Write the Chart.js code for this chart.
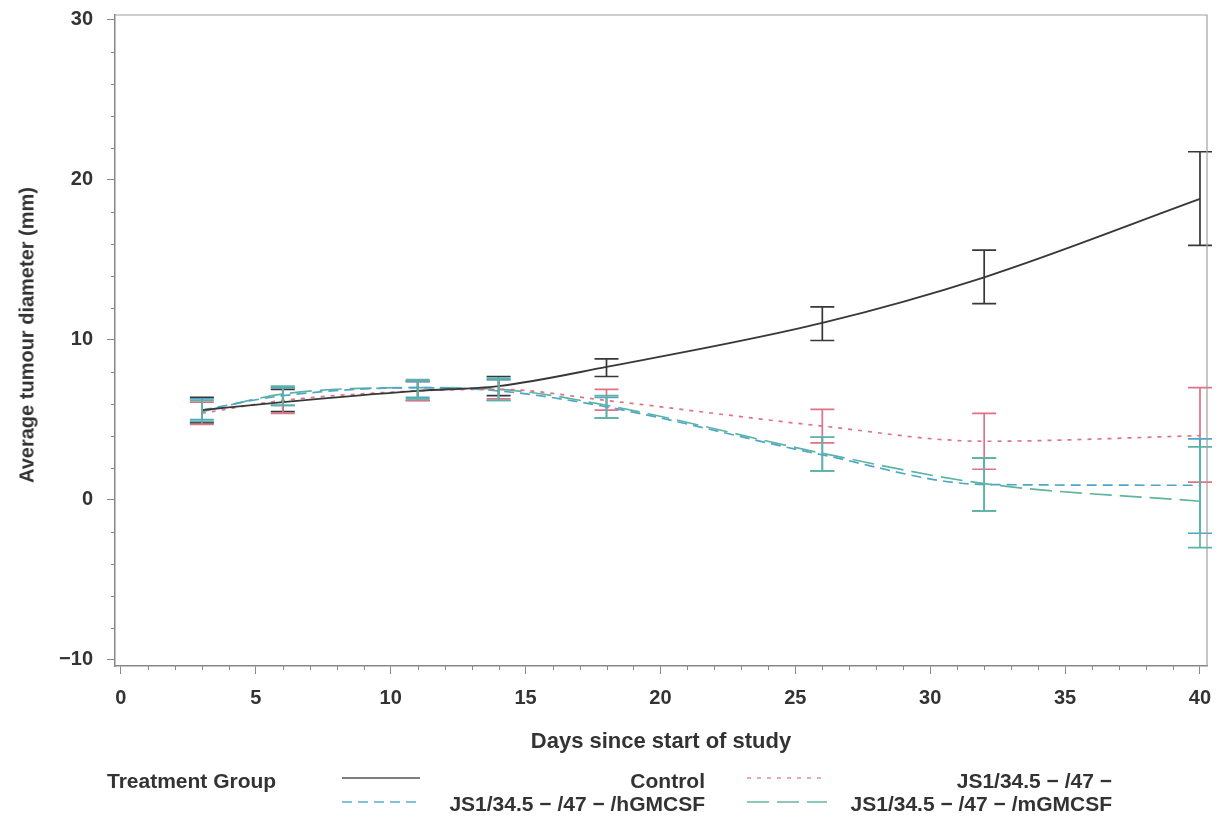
<!DOCTYPE html>
<html>
<head>
<meta charset="utf-8">
<script src="https://cdn.jsdelivr.net/npm/chart.js@4.4.1/dist/chart.umd.min.js"></script>
<style>
  html, body { margin: 0; padding: 0; background: #fff; }
  #wrap { position: relative; width: 1216px; height: 822px; font-family: "Liberation Sans", Arial, sans-serif; color: #333; font-weight: bold; }
  canvas { position: absolute; left: 0; top: 0; }
  .lg { position: absolute; font-size: 21px; line-height: 24px; white-space: nowrap; }
  .r { text-align: right; }
  svg.s { position: absolute; }
  .xt { position: absolute; left: 661px; top: 741px; transform: translate(-50%, -50%); font-size: 22px; white-space: nowrap; }
  .yt { position: absolute; left: 27px; top: 335px; transform: translate(-50%, -50%) rotate(-90deg); font-size: 20px; white-space: nowrap; }
</style>
</head>
<body>
<div id="wrap">
  <canvas id="c" width="1216" height="822"></canvas>
  <div class="xt">Days since start of study</div>
  <div class="yt">Average tumour diameter (mm)</div>
  <div class="lg" style="left:107px; top:769px;">Treatment Group</div>
  <svg class="s" style="left:342px; top:773px;" width="80" height="10"><line x1="0" y1="5" x2="78" y2="5" stroke="#555" stroke-width="1.6"/></svg>
  <div class="lg r" style="left:405px; width:300px; top:769px;">Control</div>
  <svg class="s" style="left:747px; top:773px;" width="84" height="10"><line x1="0" y1="5" x2="80" y2="5" stroke="#e08a9c" stroke-width="1.6" stroke-dasharray="4,6"/></svg>
  <div class="lg r" style="left:812px; width:300px; top:769px;">JS1/34.5 − /47 −</div>
  <svg class="s" style="left:342px; top:797px;" width="80" height="10"><line x1="0" y1="5" x2="78" y2="5" stroke="#5aaed0" stroke-width="1.6" stroke-dasharray="10,6"/></svg>
  <div class="lg r" style="left:405px; width:300px; top:792px;">JS1/34.5 − /47 − /hGMCSF</div>
  <svg class="s" style="left:747px; top:797px;" width="84" height="10"><line x1="0" y1="5" x2="80" y2="5" stroke="#66b8a4" stroke-width="1.6" stroke-dasharray="22,8"/></svg>
  <div class="lg r" style="left:812px; width:300px; top:792px;">JS1/34.5 − /47 − /mGMCSF</div>
</div>
<script>
const days = [3, 6, 11, 14, 18, 26, 32, 40];

const control   = [5.6, 6.1, 6.8, 7.1, 8.3, 11.05, 13.9, 18.8];
const controlLo = [4.8, 5.5, 6.2, 6.5, 7.7, 9.95, 12.25, 15.9];
const controlHi = [6.4, 6.9, 7.4, 7.7, 8.8, 12.05, 15.6, 21.75];

const js1    = [5.4, 6.2, 6.8, 6.9, 6.2, 4.6, 3.65, 4.0];
const js1Lo  = [4.7, 5.4, 6.2, 6.3, 5.6, 3.55, 1.9, 1.1];
const js1Hi  = [6.1, 7.0, 7.4, 7.5, 6.9, 5.65, 5.4, 7.0];

const hgm    = [5.6, 6.5, 7.0, 6.8, 5.8, 2.8, 0.95, 0.9];
const hgmLo  = [5.0, 5.9, 6.4, 6.2, 5.1, 1.8, -0.7, -2.1];
const hgmHi  = [6.3, 7.0, 7.4, 7.5, 6.4, 3.9, 2.6, 3.8];

const mgm    = [5.5, 6.6, 7.0, 6.9, 5.9, 2.9, 1.0, -0.1];
const mgmLo  = [4.9, 5.9, 6.3, 6.2, 5.1, 1.8, -0.7, -3.0];
const mgmHi  = [6.2, 7.1, 7.5, 7.6, 6.5, 3.9, 2.6, 3.3];

const xTicks = [0, 5, 10, 15, 20, 25, 30, 35, 40];
const yTicks = [-10, 0, 10, 20, 30];

function pts(vals) { return days.map((d, i) => ({ x: d, y: vals[i] })); }

const groups = [
  { label: 'Control', vals: control, lo: controlLo, hi: controlHi, color: '#383838', dash: [], width: 1.9 },
  { label: 'JS1/34.5-/47-', vals: js1, lo: js1Lo, hi: js1Hi, color: '#dc7389', dash: [4, 6], width: 1.7 },
  { label: 'JS1/34.5-/47-/hGMCSF', vals: hgm, lo: hgmLo, hi: hgmHi, color: '#4ea6cc', dash: [10, 6], width: 1.7 },
  { label: 'JS1/34.5-/47-/mGMCSF', vals: mgm, lo: mgmLo, hi: mgmHi, color: '#5db4a0', dash: [22, 8], width: 1.7 }
];

const errorBars = {
  id: 'errorBars',
  afterDatasetsDraw(chart) {
    const ctx = chart.ctx, xs = chart.scales.x, ys = chart.scales.y;
    ctx.save();
    groups.forEach(g => {
      ctx.strokeStyle = g.color;
      ctx.lineWidth = 1.7;
      ctx.setLineDash([]);
      days.forEach((d, i) => {
        const px = xs.getPixelForValue(d);
        const pl = ys.getPixelForValue(g.lo[i]);
        const ph = ys.getPixelForValue(g.hi[i]);
        ctx.beginPath();
        ctx.moveTo(px, pl); ctx.lineTo(px, ph);
        ctx.moveTo(px - 12, pl); ctx.lineTo(px + 12, pl);
        ctx.moveTo(px - 12, ph); ctx.lineTo(px + 12, ph);
        ctx.stroke();
      });
    });
    ctx.restore();
  }
};

const frame = {
  id: 'frame',
  afterDraw(chart) {
    const ctx = chart.ctx, a = chart.chartArea, xs = chart.scales.x, ys = chart.scales.y;
    ctx.save();
    ctx.strokeStyle = '#a0a0a0';
    ctx.lineWidth = 1.2;
    ctx.beginPath();
    ctx.moveTo(a.left, a.top); ctx.lineTo(a.right, a.top); ctx.lineTo(a.right, a.bottom);
    ctx.stroke();
    ctx.strokeStyle = '#888';
    ctx.lineWidth = 1;
    ctx.beginPath();
    for (let d = 0; d <= 40; d++) {
      if (d % 5 === 0) continue;
      const px = Math.round(xs.getPixelForValue(d)) + 0.5;
      ctx.moveTo(px, a.bottom); ctx.lineTo(px, a.bottom + 4);
    }
    for (let v = -10; v <= 30; v += 2) {
      if (v % 10 === 0) continue;
      const py = Math.round(ys.getPixelForValue(v)) + 0.5;
      ctx.moveTo(a.left, py); ctx.lineTo(a.left - 4, py);
    }
    ctx.stroke();
    ctx.restore();
  }
};

const font = { family: '"Liberation Sans", Arial, sans-serif', weight: 'bold', size: 20 };

new Chart(document.getElementById('c'), {
  type: 'line',
  data: {
    datasets: groups.map(g => ({
      label: g.label,
      data: pts(g.vals),
      borderColor: g.color,
      backgroundColor: g.color,
      borderDash: g.dash,
      borderWidth: g.width,
      pointRadius: 0,
      tension: 0.4,
      cubicInterpolationMode: 'monotone',
      fill: false
    }))
  },
  options: {
    responsive: false,
    animation: false,
    layout: { padding: { left: 0, right: 9, top: 15, bottom: 67 } },
    plugins: { legend: { display: false }, tooltip: { enabled: false } },
    scales: {
      x: {
        type: 'linear',
        min: -0.22, max: 40.26,
        afterBuildTicks: s => { s.ticks = xTicks.map(v => ({ value: v })); },
        afterFit: s => { s.height = 89; s.paddingLeft = 0; s.paddingRight = 0; },
        grid: { drawOnChartArea: false, tickLength: 8, tickColor: '#888' },
        border: { color: '#888', width: 1.5 },
        ticks: { color: '#333', font: font, padding: 12, maxRotation: 0, callback: v => String(v) }
      },
      y: {
        min: -10.4, max: 30.3,
        afterBuildTicks: s => { s.ticks = yTicks.map(v => ({ value: v })); },
        afterFit: s => { s.width = 115; s.paddingTop = 0; s.paddingBottom = 0; },
        grid: { drawOnChartArea: false, tickLength: 8, tickColor: '#888' },
        border: { color: '#888', width: 1.5 },
        ticks: { color: '#333', font: font, padding: 14, callback: v => (v < 0 ? '\u2212' + Math.abs(v) : String(v)) }
      }
    }
  },
  plugins: [errorBars, frame]
});
</script>
</body>
</html>
